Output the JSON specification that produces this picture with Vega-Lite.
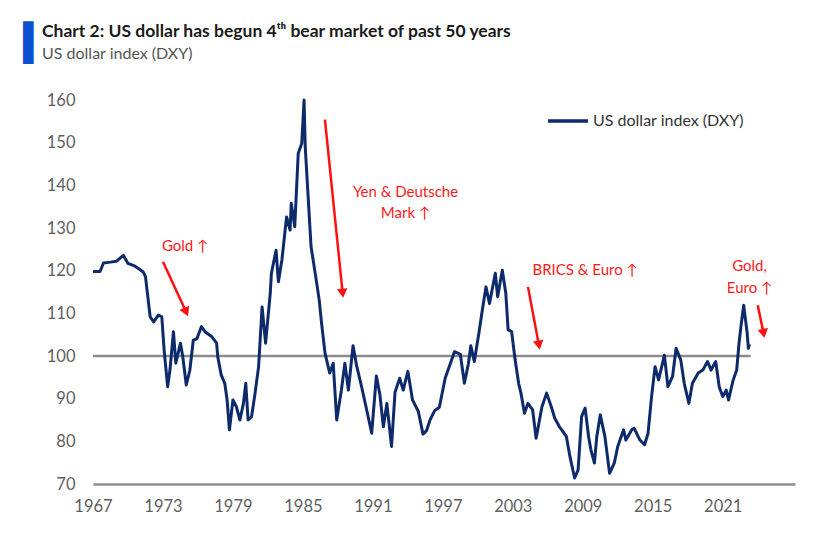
{
  "$schema": "https://vega.github.io/schema/vega-lite/v6.json",
  "width": 702,
  "height": 384,
  "autosize": {"type": "none"},
  "padding": {"left": 93, "top": 100, "right": 22, "bottom": 56},
  "background": "white",
  "config": {
    "font": "Lato",
    "view": {"stroke": null},
    "axis": {"grid": false, "ticks": false, "labelColor": "#5f5f5f", "labelFontSize": 16.5}
  },
  "title": {
    "text": "Chart 2: US dollar has begun 4ᵗʰ bear market of past 50 years",
    "subtitle": "US dollar index (DXY)",
    "anchor": "start",
    "frame": "group",
    "dx": -51,
    "offset": -37,
    "fontSize": 17.5,
    "fontWeight": "bold",
    "color": "#1a1a1a",
    "subtitleFontSize": 16,
    "subtitleColor": "#555555",
    "subtitlePadding": 6
  },
  "datasets": {
    "dxy": [
      {"year": 1967.0, "dxy": 119.8}, {"year": 1967.6, "dxy": 119.8}, {"year": 1967.9, "dxy": 121.8},
      {"year": 1968.5, "dxy": 122.0}, {"year": 1969.0, "dxy": 122.2}, {"year": 1969.6, "dxy": 123.6},
      {"year": 1970.0, "dxy": 121.7}, {"year": 1970.5, "dxy": 121.2}, {"year": 1970.9, "dxy": 120.5},
      {"year": 1971.3, "dxy": 119.7}, {"year": 1971.5, "dxy": 118.6}, {"year": 1971.7, "dxy": 113.9},
      {"year": 1971.9, "dxy": 109.2}, {"year": 1972.2, "dxy": 108.0}, {"year": 1972.6, "dxy": 109.6},
      {"year": 1972.9, "dxy": 109.2}, {"year": 1973.1, "dxy": 101.4}, {"year": 1973.4, "dxy": 92.8},
      {"year": 1973.6, "dxy": 96.7}, {"year": 1973.9, "dxy": 105.7}, {"year": 1974.1, "dxy": 98.3},
      {"year": 1974.5, "dxy": 103.0}, {"year": 1974.7, "dxy": 99.8}, {"year": 1975.0, "dxy": 93.2},
      {"year": 1975.3, "dxy": 96.6}, {"year": 1975.6, "dxy": 103.7}, {"year": 1975.9, "dxy": 104.0},
      {"year": 1976.3, "dxy": 106.9}, {"year": 1976.6, "dxy": 105.7}, {"year": 1977.2, "dxy": 104.5},
      {"year": 1977.6, "dxy": 103.0}, {"year": 1977.7, "dxy": 99.8}, {"year": 1978.0, "dxy": 95.5},
      {"year": 1978.3, "dxy": 93.6}, {"year": 1978.5, "dxy": 89.7}, {"year": 1978.7, "dxy": 82.7},
      {"year": 1979.0, "dxy": 89.7}, {"year": 1979.3, "dxy": 88.1}, {"year": 1979.6, "dxy": 85.0},
      {"year": 1979.9, "dxy": 88.9}, {"year": 1980.1, "dxy": 93.6}, {"year": 1980.3, "dxy": 85.0},
      {"year": 1980.6, "dxy": 85.8}, {"year": 1980.9, "dxy": 91.3}, {"year": 1981.2, "dxy": 97.5},
      {"year": 1981.5, "dxy": 111.5}, {"year": 1981.8, "dxy": 103.0}, {"year": 1982.2, "dxy": 114.7},
      {"year": 1982.3, "dxy": 119.4}, {"year": 1982.7, "dxy": 124.8}, {"year": 1982.9, "dxy": 117.4},
      {"year": 1983.2, "dxy": 122.5}, {"year": 1983.6, "dxy": 132.6}, {"year": 1983.9, "dxy": 129.5},
      {"year": 1984.0, "dxy": 135.8}, {"year": 1984.3, "dxy": 130.3}, {"year": 1984.6, "dxy": 147.5},
      {"year": 1984.9, "dxy": 149.8}, {"year": 1985.1, "dxy": 160.0}, {"year": 1985.2, "dxy": 149.0},
      {"year": 1985.45, "dxy": 137.3}, {"year": 1985.7, "dxy": 125.6}, {"year": 1986.1, "dxy": 118.6},
      {"year": 1986.4, "dxy": 113.1}, {"year": 1986.6, "dxy": 107.7}, {"year": 1986.9, "dxy": 100.6},
      {"year": 1987.3, "dxy": 96.0}, {"year": 1987.6, "dxy": 98.3}, {"year": 1987.9, "dxy": 85.0},
      {"year": 1988.3, "dxy": 92.0}, {"year": 1988.6, "dxy": 98.3}, {"year": 1988.9, "dxy": 92.0},
      {"year": 1989.3, "dxy": 102.4}, {"year": 1989.6, "dxy": 97.8}, {"year": 1990.0, "dxy": 93.2},
      {"year": 1990.5, "dxy": 87.0}, {"year": 1990.9, "dxy": 81.9}, {"year": 1991.3, "dxy": 95.3},
      {"year": 1991.6, "dxy": 91.0}, {"year": 1991.9, "dxy": 83.4}, {"year": 1992.2, "dxy": 88.9},
      {"year": 1992.6, "dxy": 78.8}, {"year": 1992.9, "dxy": 91.5}, {"year": 1993.3, "dxy": 94.8},
      {"year": 1993.6, "dxy": 92.0}, {"year": 1994.0, "dxy": 96.4}, {"year": 1994.4, "dxy": 89.7},
      {"year": 1994.9, "dxy": 87.0}, {"year": 1995.3, "dxy": 81.7}, {"year": 1995.6, "dxy": 82.5},
      {"year": 1995.9, "dxy": 85.0}, {"year": 1996.3, "dxy": 87.2}, {"year": 1996.7, "dxy": 88.0},
      {"year": 1997.2, "dxy": 94.8}, {"year": 1997.6, "dxy": 97.9}, {"year": 1998.0, "dxy": 101.0},
      {"year": 1998.5, "dxy": 100.4}, {"year": 1998.85, "dxy": 93.6}, {"year": 1999.2, "dxy": 98.3},
      {"year": 1999.4, "dxy": 102.4}, {"year": 1999.7, "dxy": 98.7}, {"year": 2000.1, "dxy": 105.5},
      {"year": 2000.4, "dxy": 111.0}, {"year": 2000.7, "dxy": 116.2}, {"year": 2001.0, "dxy": 112.3},
      {"year": 2001.5, "dxy": 119.4}, {"year": 2001.7, "dxy": 113.9}, {"year": 2002.1, "dxy": 120.1},
      {"year": 2002.4, "dxy": 114.7}, {"year": 2002.6, "dxy": 106.1}, {"year": 2002.9, "dxy": 105.7},
      {"year": 2003.2, "dxy": 99.1}, {"year": 2003.5, "dxy": 93.6}, {"year": 2003.7, "dxy": 91.3},
      {"year": 2004.0, "dxy": 86.6}, {"year": 2004.3, "dxy": 88.9}, {"year": 2004.7, "dxy": 87.4},
      {"year": 2005.0, "dxy": 80.7}, {"year": 2005.5, "dxy": 88.1}, {"year": 2005.9, "dxy": 91.3},
      {"year": 2006.3, "dxy": 88.1}, {"year": 2006.6, "dxy": 85.4}, {"year": 2007.0, "dxy": 83.4},
      {"year": 2007.2, "dxy": 82.7}, {"year": 2007.6, "dxy": 81.1}, {"year": 2007.9, "dxy": 76.4},
      {"year": 2008.3, "dxy": 71.4}, {"year": 2008.6, "dxy": 73.3}, {"year": 2008.9, "dxy": 85.8},
      {"year": 2009.2, "dxy": 87.8}, {"year": 2009.5, "dxy": 81.1}, {"year": 2009.7, "dxy": 78.0},
      {"year": 2010.0, "dxy": 74.9}, {"year": 2010.2, "dxy": 81.1}, {"year": 2010.5, "dxy": 86.2},
      {"year": 2010.9, "dxy": 81.1}, {"year": 2011.3, "dxy": 72.5}, {"year": 2011.7, "dxy": 74.9},
      {"year": 2012.0, "dxy": 78.8}, {"year": 2012.5, "dxy": 82.7}, {"year": 2012.7, "dxy": 80.3},
      {"year": 2013.2, "dxy": 82.7}, {"year": 2013.4, "dxy": 83.1}, {"year": 2013.9, "dxy": 80.3},
      {"year": 2014.3, "dxy": 79.2}, {"year": 2014.6, "dxy": 81.9}, {"year": 2014.9, "dxy": 90.5},
      {"year": 2015.2, "dxy": 97.5}, {"year": 2015.5, "dxy": 94.4}, {"year": 2015.7, "dxy": 96.7},
      {"year": 2016.0, "dxy": 100.2}, {"year": 2016.3, "dxy": 92.8}, {"year": 2016.7, "dxy": 95.2},
      {"year": 2017.0, "dxy": 101.8}, {"year": 2017.4, "dxy": 99.1}, {"year": 2017.7, "dxy": 93.6},
      {"year": 2018.1, "dxy": 88.9}, {"year": 2018.4, "dxy": 93.6}, {"year": 2018.9, "dxy": 96.0},
      {"year": 2019.3, "dxy": 96.7}, {"year": 2019.7, "dxy": 98.7}, {"year": 2020.0, "dxy": 96.7},
      {"year": 2020.4, "dxy": 98.7}, {"year": 2020.7, "dxy": 92.8}, {"year": 2021.0, "dxy": 90.5},
      {"year": 2021.3, "dxy": 92.0}, {"year": 2021.5, "dxy": 89.7}, {"year": 2021.9, "dxy": 94.4},
      {"year": 2022.2, "dxy": 96.7}, {"year": 2022.4, "dxy": 103.0}, {"year": 2022.6, "dxy": 107.7},
      {"year": 2022.8, "dxy": 111.9}, {"year": 2023.1, "dxy": 105.3}, {"year": 2023.2, "dxy": 101.8},
      {"year": 2023.3, "dxy": 102.8}
    ],
    "base": [{"from": 1967.0, "to": 2023.4, "level": 100}],
    "arrows": [
      {"x1": 1973.0, "y1": 122.1, "x2": 1974.99, "y2": 110.3, "dir": -24},
      {"x1": 1986.89, "y1": 155.4, "x2": 1988.41, "y2": 114.7, "dir": -6},
      {"x1": 2004.3, "y1": 116.2, "x2": 2005.24, "y2": 102.55, "dir": -10},
      {"x1": 2024.0, "y1": 111.9, "x2": 2024.51, "y2": 105.3, "dir": -11}
    ],
    "notes": [
      {"year": 1974.9, "value": 125.8, "note": "Gold ↑"},
      {"year": 1993.8, "value": 138.5, "note": "Yen & Deutsche\nMark ↑"},
      {"year": 2009.2, "value": 120.1, "note": "BRICS & Euro ↑"},
      {"year": 2023.3, "value": 121.0, "note": "Gold,\nEuro ↑"}
    ]
  },
  "layer": [
    {
      "data": {"name": "base"},
      "mark": {"type": "rule", "color": "#8c8c8c", "strokeWidth": 2.5},
      "encoding": {
        "x": {"field": "from", "type": "quantitative"},
        "x2": {"field": "to"},
        "y": {"field": "level", "type": "quantitative"}
      }
    },
    {
      "data": {"name": "dxy"},
      "mark": {"type": "line", "strokeWidth": 3, "strokeJoin": "round"},
      "encoding": {
        "x": {
          "field": "year",
          "type": "quantitative",
          "scale": {"domain": [1967, 2027.2], "nice": false, "zero": false},
          "axis": {
            "title": null,
            "values": [1967, 1973, 1979, 1985, 1991, 1997, 2003, 2009, 2015, 2021],
            "format": "d",
            "labelFlush": false,
            "labelPadding": 14,
            "domainColor": "#8c8c8c",
            "domainWidth": 2.5
          }
        },
        "y": {
          "field": "dxy",
          "type": "quantitative",
          "scale": {"domain": [70, 160], "nice": false, "zero": false},
          "axis": {
            "values": [70, 80, 90, 100, 110, 120, 130, 140, 150, 160],
            "domain": false,
            "labelPadding": 18,
            "title": "▍",
            "titleFont": "DejaVu Sans",
            "titleFontSize": 36,
            "titleColor": "#0a50d0",
            "titleAngle": 0,
            "titleAlign": "left",
            "titleBaseline": "top",
            "titleX": -70,
            "titleY": -74
          }
        },
        "color": {
          "datum": "US dollar index (DXY)",
          "type": "nominal",
          "scale": {"range": ["#0d2a6b"]},
          "legend": {
            "title": null,
            "orient": "none",
            "legendX": 453,
            "legendY": -1,
            "symbolType": "stroke",
            "symbolSize": 1600,
            "symbolStrokeWidth": 3.5,
            "labelFontSize": 16,
            "labelColor": "#333333",
            "labelOffset": 3,
            "padding": 0
          }
        }
      }
    },
    {
      "data": {"name": "arrows"},
      "mark": {"type": "rule", "color": "#ff1010", "strokeWidth": 2.5},
      "encoding": {
        "x": {"field": "x1", "type": "quantitative"},
        "y": {"field": "y1", "type": "quantitative"},
        "x2": {"field": "x2"},
        "y2": {"field": "y2"}
      }
    },
    {
      "data": {"name": "arrows"},
      "mark": {"type": "point", "shape": "triangle-down", "filled": true, "color": "#ff1010", "size": 110, "opacity": 1},
      "encoding": {
        "x": {"field": "x2", "type": "quantitative"},
        "y": {"field": "y2", "type": "quantitative"},
        "angle": {"field": "dir", "type": "quantitative", "scale": null}
      }
    },
    {
      "data": {"name": "notes"},
      "mark": {"type": "text", "color": "#ff1a1a", "fontSize": 15, "lineBreak": "\n", "lineHeight": 21.6, "align": "center", "baseline": "middle"},
      "encoding": {
        "x": {"field": "year", "type": "quantitative"},
        "y": {"field": "value", "type": "quantitative"},
        "text": {"field": "note"}
      }
    }
  ]
}
